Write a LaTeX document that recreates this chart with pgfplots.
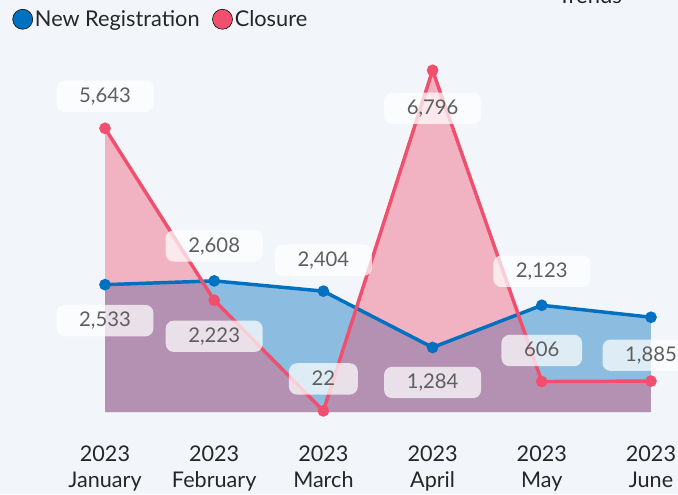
\documentclass[border=0pt]{standalone}
\usepackage{pgfplots}
\pgfplotsset{compat=1.18}
\usepackage{fontspec}
\setmainfont{Lato}
\definecolor{bg}{HTML}{F2F6FA}
\definecolor{nrblue}{HTML}{0070C0}
\definecolor{clred}{HTML}{F0506E}
\definecolor{lbl}{HTML}{5E5E5E}
\definecolor{txt}{HTML}{262626}

\pgfplotstableread{
x y dy
0 2533 -36
1 2608 35
2 2404 31
3 1284 -35
4 2123 34
5 1885 -38
}\newreg
\pgfplotstableread{
x y dy
0 5643 32
1 2223 -36
2 22 32
3 6796 -38
4 606 31
5 615 0
}\closure

\begin{document}
\begin{tikzpicture}
\path[use as bounding box] (0pt,0pt) rectangle (508.5pt,370.5pt);
\clip (0pt,0pt) rectangle (508.5pt,370.5pt);
\fill[bg] (0pt,0pt) rectangle (508.5pt,370.5pt);
\node[anchor=base, font=\fontsize{16.5pt}{18pt}\selectfont, text=txt] at (442.5pt,367.5pt) {Trends};
\begin{axis}[
  at={(78.75pt,61.5pt)}, anchor=south west,
  scale only axis, width=409.5pt, height=271.5pt,
  xmin=0, xmax=5, ymin=0, ymax=7200,
  clip=false,
  hide y axis,
  x axis line style={draw=none},
  major tick length=0pt,
  xtick={0,1,2,3,4,5},
  xticklabels={{2023\\January},{2023\\February},{2023\\March},{2023\\April},{2023\\May},{2023\\June}},
  xticklabel style={align=center, font=\fontsize{16.2pt}{19.5pt}\selectfont, text=txt, yshift=-22pt},
  /pgf/number format/.cd, fixed, precision=0, 1000 sep={,}, assume math mode=true,
  /pgfplots/.cd,
  legend style={draw=none, fill=none, inner sep=0pt, anchor=west,
    at={(axis description cs:-0.170,1.085)}, legend columns=2,
    font=\fontsize{16.3pt}{18pt}\selectfont, text=txt,
    /tikz/every even column/.append style={column sep=8pt},
    nodes={inner sep=1.5pt}},
  legend image code/.code={\path[#1] (7.5pt,0pt) circle (7.5pt);},
  lbl/.style={draw=none, mark=none, nodes near coords,
    visualization depends on={\thisrow{dy} \as \dy},
    every node near coord/.append style={font=\fontsize{15.2pt}{18pt}\selectfont, text=lbl,
      fill=white, fill opacity=0.72, text opacity=1, rounded corners=6pt,
      inner xsep=17pt, inner ysep=5.5pt, text height=11pt, text depth=1.5pt,
      anchor=center, yshift=\dy*0.75pt}},
]
\addlegendimage{fill=nrblue}
\addlegendentry{New Registration}
\addlegendimage{fill=clred}
\addlegendentry{Closure}

\addplot[forget plot, fill=nrblue, fill opacity=0.42, draw=none] table[x=x,y=y] {\newreg} \closedcycle;
\addplot[forget plot, fill=clred, fill opacity=0.4, draw=none] table[x=x,y=y] {\closure} \closedcycle;
\addplot[forget plot, nrblue, line width=2.6pt, mark=*, mark size=3pt, mark options={fill=nrblue, draw=none}] table[x=x,y=y] {\newreg};
\addplot[forget plot, clred, line width=2.6pt, mark=*, mark size=3pt, mark options={fill=clred, draw=none}] table[x=x,y=y] {\closure};
\addplot[forget plot, lbl] table[x=x,y=y] {\newreg};
\addplot[forget plot, lbl, skip coords between index={5}{6}] table[x=x,y=y] {\closure};
\end{axis}
\end{tikzpicture}
\end{document}
